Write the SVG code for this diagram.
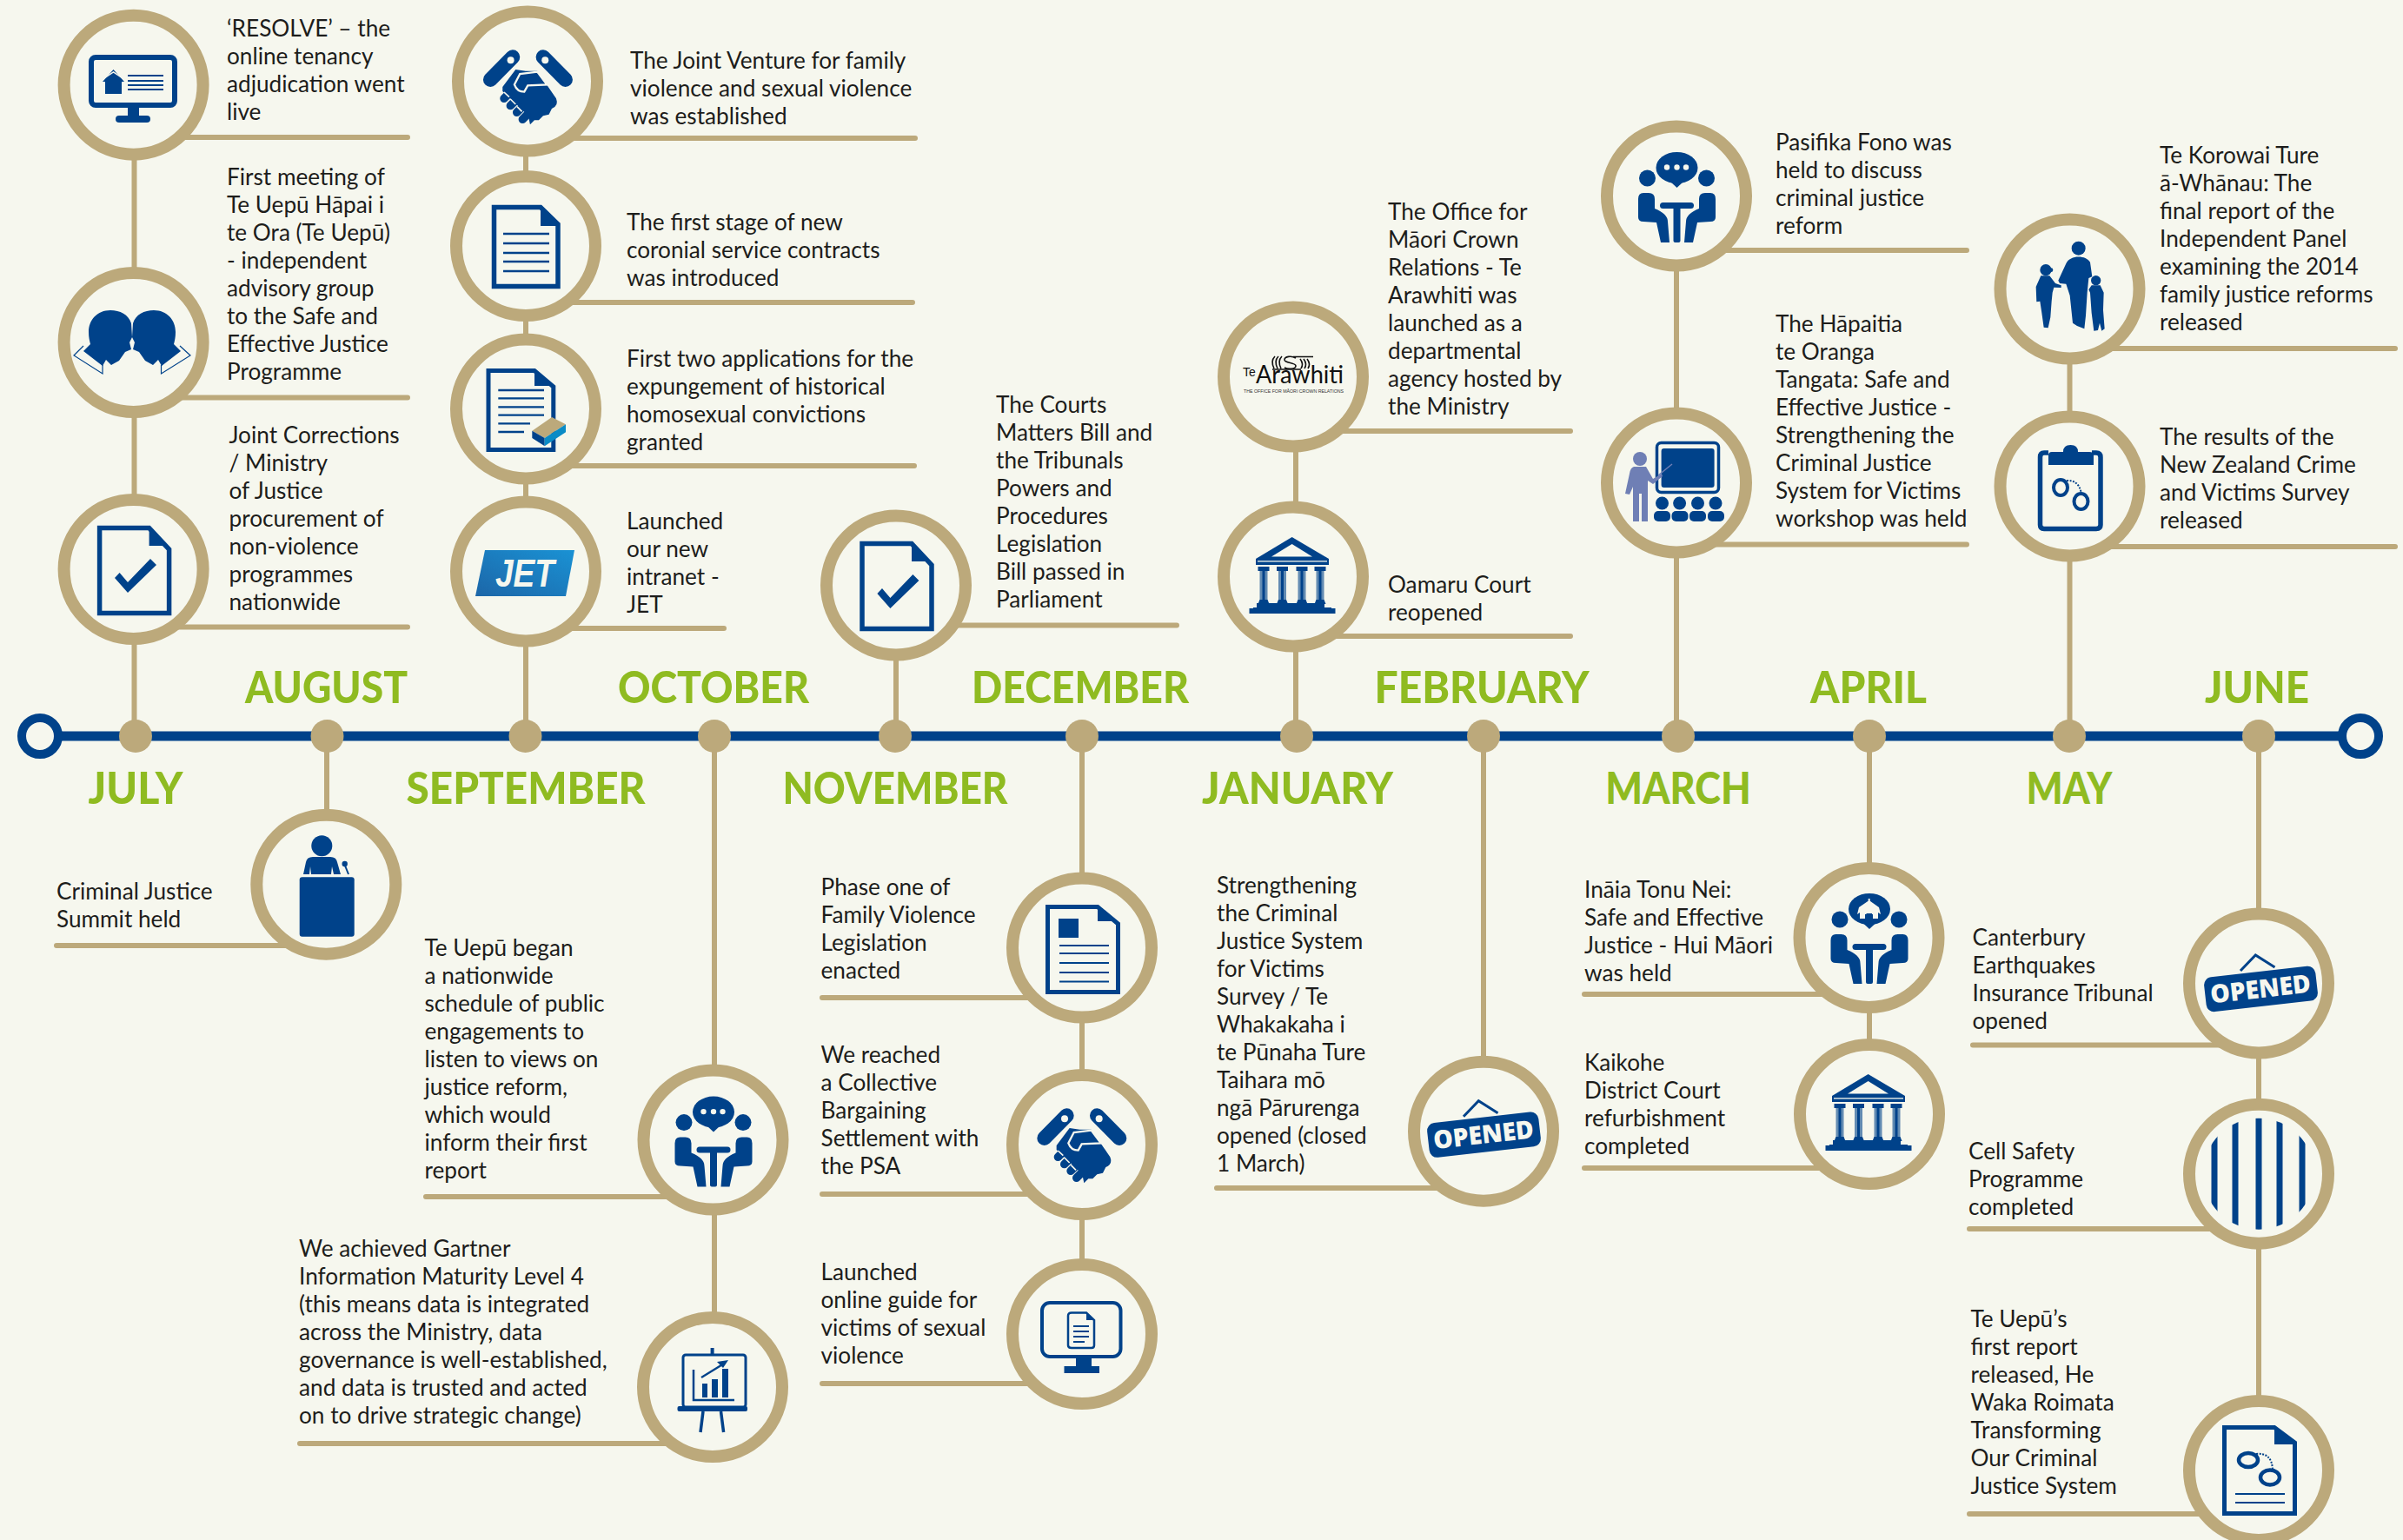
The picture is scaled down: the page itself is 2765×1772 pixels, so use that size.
<svg xmlns="http://www.w3.org/2000/svg" width="2765" height="1772" viewBox="0 0 2765 1772">
<style>
.t{font-family:"Lato","Liberation Sans",sans-serif;font-size:26.2px;font-weight:400;fill:#1d1d1b}
.m{font-family:"Lato","Liberation Sans",sans-serif;font-weight:900;font-size:51px;fill:#8fbb21;text-anchor:middle}
.ring{fill:#f6f7ee;stroke:#bca97b;stroke-width:14}
.dot{fill:#bca97b}
.end{fill:#f6f7ee;stroke:#00428a;stroke-width:10}
.v{stroke:#bca97b;stroke-width:6;fill:none}
.l{stroke:#bca97b;stroke-width:6;fill:none;stroke-linecap:round}
.b{fill:#00428a}
.s{fill:none;stroke:#00428a}
.w{fill:#f6f7ee}
</style>
<defs>
<clipPath id="barclip"><circle cx="0" cy="0" r="64"/></clipPath>
<g id="handshake" transform="scale(.3333) translate(-233,-273)">
<path d="M103,245L180,167M285,167L362,245" stroke="#00428a" stroke-width="50" stroke-linecap="round" fill="none"/>
<circle class="w" cx="173" cy="178" r="12"/><circle class="w" cx="292" cy="178" r="12"/>
<path class="b" d="M145,270L190,210L225,215L265,215L330,310Q340,335 315,345L305,365L285,370L270,385L255,385L240,400L235,375L215,350L145,285Z"/>
<path d="M150,310L165,295M172,335L187,320M194,358L209,343M214,382L228,368" stroke="#00428a" stroke-width="28" stroke-linecap="round" fill="none"/>
<path d="M150,288L168,305M172,312L190,330M195,338L212,355" stroke="#f6f7ee" stroke-width="5" fill="none"/>
<path d="M186,262L205,225L265,218L298,262L232,265L220,287Q195,287 186,262Z" class="b" stroke="#f6f7ee" stroke-width="7"/>
</g>
<g id="opened">
<path d="M-23,-17L-5.7,-35L16.5,-21" fill="none" stroke="#00428a" stroke-width="3"/>
<rect class="b" x="-64" y="-16" width="129" height="40" rx="9" transform="rotate(-6.5 0 4)"/>
<text x="0" y="14" text-anchor="middle" transform="rotate(-6.5 0 4)" font-family="'Open Sans','Liberation Sans',sans-serif" font-weight="800" font-size="29" fill="#f6f7ee" textLength="116" lengthAdjust="spacingAndGlyphs">OPENED</text>
</g>
<g id="meetbase">
<ellipse class="b" cx="0.5" cy="-32" rx="24" ry="18"/>
<path class="b" d="M-7,-16L0.5,-9L8,-16Z"/>
<circle class="b" cx="-33.500" cy="-20" r="9.500"/><circle class="b" cx="34.500" cy="-20" r="9.500"/>
<path class="b" d="M-38,-3Q-44,-3 -44,4L-44,25Q-44,30 -38,30L-23,31L-18,54L-8,54L-10,30Q-10,21 -25,15L-25,4Q-25,-3 -32,-3Z"/>
<path class="b" d="M39,-3Q45,-3 45,4L45,25Q45,30 39,30L24,31L19,54L9,54L11,30Q11,21 26,15L26,4Q26,-3 33,-3Z"/>
<rect class="b" x="-19" y="8" width="39" height="7" rx="3.500"/><rect class="b" x="-3.500" y="10" width="8" height="44" rx="2"/>
</g>
<g id="meet">
<use href="#meetbase"/>
<circle class="w" cx="-11" cy="-32.500" r="3.200"/><circle class="w" cx="0.500" cy="-32.500" r="3.200"/><circle class="w" cx="11" cy="-32.500" r="3.200"/>
</g>
<g id="col"><rect class="b" x="-6.500" y="-11" width="13" height="5"/><rect class="b" x="-4.500" y="-6" width="9" height="34" opacity=".6"/><rect class="b" x="-1.500" y="-6" width="3" height="34"/><path class="b" d="M-6.500,32L-4.500,27L4.500,27L6.500,32Z"/></g>
<g id="court">
<path class="b" d="M-1.400,-45L41,-20L41,-13L-43,-13L-43,-20Z"/>
<path class="w" d="M-1.400,-37L22,-22.500L-25,-22.500Z"/>
<rect class="w" x="-41" y="-17.800" width="80" height="1.300"/>
<use href="#col" x="-34"/><use href="#col" x="-12.500"/><use href="#col" x="10"/><use href="#col" x="31"/>
<rect class="b" x="-42" y="31" width="78" height="6"/>
<rect class="b" x="-46" y="36" width="90" height="6"/>
<rect class="b" x="-50.500" y="37" width="99" height="6"/>
</g>
<g id="doccheck">
<path class="s" stroke-width="5.500" d="M-39,-47.500L18,-47.500L41,-23L41,50.500L-39,50.500Z"/>
<path class="b" d="M18,-47.500L41,-23L41,-27L18,-27Z"/>
<path class="b" d="M-21.600,10L-6.600,27L26.400,-5L19.400,-12L-6.600,15L-16,4Z"/>
</g>
<g id="bars" clip-path="url(#barclip)">
<rect class="b" x="-54.500" y="-70" width="7" height="140"/><rect class="b" x="-30.500" y="-70" width="7" height="140"/><rect class="b" x="-3.500" y="-70" width="7" height="140"/><rect class="b" x="20.500" y="-70" width="7" height="140"/><rect class="b" x="46.500" y="-70" width="7" height="140"/>
</g>
<linearGradient id="jg" x1="0" y1="1" x2="1" y2="0"><stop offset="0" stop-color="#1c66a8"/><stop offset="1" stop-color="#1a92d4"/></linearGradient>
</defs>
<rect width="2765" height="1772" fill="#f6f7ee"/>
<g id="connectors">
<path class="v" d="M154.500,847V97M376,847V1017M605,847V93M822,847V1596M1031,847V673M1245,847V1535M1491,847V433M1707,847V1302M1929,847V225M2151,847V1282M2381.500,847V332M2599,847V1692"/>
<path d="M46,847H2716" stroke="#00428a" stroke-width="11" fill="none"/>
<path class="l" d="M154,158H469M154,457.500H469M154,721.500H469M65,1088H376M605,159H1053M605,348H1050M605,536H1052M605,723H833M490,1377H820M345,1661H820M1031,719.500H1354M946,1148H1245M946,1374H1245M946,1592H1245M1488,496H1807M1488,732H1807M1400,1367H1707M1929,288H2263M1929,626.500H2263M1823,1144H2151M1823,1344H2151M2381,401H2756M2381,629H2756M2270,1202.500H2599M2266,1414H2599M2266,1742H2599"/>
</g>
<g id="timeline">
<circle class="end" cx="46" cy="847" r="21"/><circle class="end" cx="2716" cy="847" r="21"/>
<circle class="dot" cx="156" cy="847" r="19"/><circle class="dot" cx="376.500" cy="847" r="19"/><circle class="dot" cx="604.500" cy="847" r="19"/><circle class="dot" cx="822" cy="847" r="19"/><circle class="dot" cx="1030" cy="847" r="19"/><circle class="dot" cx="1245" cy="847" r="19"/><circle class="dot" cx="1492" cy="847" r="19"/><circle class="dot" cx="1707" cy="847" r="19"/><circle class="dot" cx="1931" cy="847" r="19"/><circle class="dot" cx="2151" cy="847" r="19"/><circle class="dot" cx="2381" cy="847" r="19"/><circle class="dot" cx="2599" cy="847" r="19"/>
</g>
<g id="months">
<text class="m" x="156" y="925" textLength="109" lengthAdjust="spacingAndGlyphs">JULY</text><text class="m" x="375.500" y="809" textLength="187" lengthAdjust="spacingAndGlyphs">AUGUST</text><text class="m" x="605" y="925" textLength="275" lengthAdjust="spacingAndGlyphs">SEPTEMBER</text><text class="m" x="821" y="809" textLength="220" lengthAdjust="spacingAndGlyphs">OCTOBER</text><text class="m" x="1030" y="925" textLength="259" lengthAdjust="spacingAndGlyphs">NOVEMBER</text><text class="m" x="1243" y="809" textLength="250" lengthAdjust="spacingAndGlyphs">DECEMBER</text><text class="m" x="1493" y="925" textLength="220" lengthAdjust="spacingAndGlyphs">JANUARY</text><text class="m" x="1705" y="809" textLength="247" lengthAdjust="spacingAndGlyphs">FEBRUARY</text><text class="m" x="1931" y="925" textLength="167.500" lengthAdjust="spacingAndGlyphs">MARCH</text><text class="m" x="2150" y="809" textLength="134" lengthAdjust="spacingAndGlyphs">APRIL</text><text class="m" x="2381" y="925" textLength="99" lengthAdjust="spacingAndGlyphs">MAY</text><text class="m" x="2597" y="809" textLength="120" lengthAdjust="spacingAndGlyphs">JUNE</text>
</g>
<g id="n-resolve">
<circle class="ring" cx="153.600" cy="97.700" r="80"/>
<rect class="s" stroke-width="6" x="105" y="66" width="96" height="55" rx="5"/>
<rect class="b" x="147" y="122" width="13" height="12"/><rect class="b" x="133" y="133" width="40" height="8" rx="4"/>
<path class="b" d="M121,108V94H118L130.500,80L143,94H140V108Z"/><path d="M117,92L130.500,83L144,92" stroke="#f6f7ee" stroke-width="1.500" fill="none"/>
<path d="M147,87H188M147,93H188M147,98H188M147,103H188" stroke="#00428a" stroke-width="2" fill="none"/>
<text class="t" x="261" y="41.700">‘RESOLVE’ – the<tspan x="261" dy="32">online tenancy</tspan><tspan x="261" dy="32">adjudication went</tspan><tspan x="261" dy="32">live</tspan></text>
</g>
<g id="n-meeting">
<circle class="ring" cx="153.600" cy="394" r="80"/>
<path class="b" d="M151,372C148,362 138,357 127,357C112,357 102,368 102,382C102,388 103,392 104,396L96,404L118,421L122,414L128,420L137,415L144,405L151,402L149,394L152,388Z"/>
<path class="b" d="M153,372C156,362 166,357 177,357C192,357 202,368 202,382C202,388 201,392 200,396L208,404L186,421L182,414L176,420L167,415L160,405L153,402L155,394L152,388Z"/>
<path d="M96,398L85,409L118,430L118,420M207,398L219,409L185.500,430L185.500,420" fill="none" stroke="#00428a" stroke-width="1.200"/>
<text class="t" x="261" y="213.300">First meeting of<tspan x="261" dy="32">Te Uepū Hāpai i</tspan><tspan x="261" dy="32">te Ora (Te Uepū)</tspan><tspan x="261" dy="32">- independent</tspan><tspan x="261" dy="32">advisory group</tspan><tspan x="261" dy="32">to the Safe and</tspan><tspan x="261" dy="32">Effective Justice</tspan><tspan x="261" dy="32">Programme</tspan></text>
</g>
<g id="n-corrections">
<circle class="ring" cx="153.600" cy="655" r="80"/>
<use href="#doccheck" x="153.600" y="655"/>
<text class="t" x="263.500" y="509.700">Joint Corrections<tspan x="263.500" dy="32">/ Ministry</tspan><tspan x="263.500" dy="32">of Justice</tspan><tspan x="263.500" dy="32">procurement of</tspan><tspan x="263.500" dy="32">non-violence</tspan><tspan x="263.500" dy="32">programmes</tspan><tspan x="263.500" dy="32">nationwide</tspan></text>
</g>
<g id="n-summit">
<circle class="ring" cx="375.300" cy="1017.700" r="80"/>
<circle class="b" cx="370.300" cy="973.300" r="12"/>
<path class="b" d="M349,1006L352,992Q353,986 360,986H380Q387,986 388,992L392,1006H384L382,997L381,1006H358L357,997L356,1006Z"/>
<rect class="b" x="344.700" y="1009.300" width="63" height="68.500" rx="3"/>
<circle class="b" cx="396.700" cy="994" r="3.200"/><path d="M397,996L401,1006" stroke="#00428a" stroke-width="2" fill="none"/>
<text class="t" x="65" y="1035">Criminal Justice<tspan x="65" dy="32">Summit held</tspan></text>
</g>
<g id="n-jv">
<circle class="ring" cx="607" cy="93.500" r="80"/>
<use href="#handshake" x="607.600" y="101"/>
<text class="t" x="725" y="79">The Joint Venture for family<tspan x="725" dy="32">violence and sexual violence</tspan><tspan x="725" dy="32">was established</tspan></text>
</g>
<g id="n-coronial">
<circle class="ring" cx="605" cy="283" r="80"/>
<path class="s" stroke-width="5.500" d="M568.500,238.500H622L642,258V329.500H568.500Z"/><path class="b" d="M622,238.500L642,258V260H622Z"/>
<path d="M579,269H632M579,280H632M579,291H632M579,301H632M579,312H632" stroke="#00428a" stroke-width="2.500" fill="none"/>
<text class="t" x="721" y="265">The first stage of new<tspan x="721" dy="32">coronial service contracts</tspan><tspan x="721" dy="32">was introduced</tspan></text>
</g>
<g id="n-expunge">
<circle class="ring" cx="605" cy="470.500" r="80"/>
<path class="s" stroke-width="5" d="M562,426.500H615L636.800,445V517.500H562Z"/><path class="b" d="M615,426.500L636.800,445V444H615Z"/>
<path d="M573.300,449H626M573.300,458.300H626M573.300,468.300H626M573.300,477.700H626M573.300,487.300H610M573.300,497H603" stroke="#00428a" stroke-width="2.300" fill="none"/>
<path d="M612.300,495.700L635,480L651,488.300L626.700,504Z" fill="#bca97b"/><path class="b" d="M612.300,495.700L626.700,504V513.300L612.300,504Z"/><path d="M626.700,504L651,488.300V497.300L626.700,513.300Z" fill="#0a8bc6"/>
<text class="t" x="721" y="422">First two applications for the<tspan x="721" dy="32">expungement of historical</tspan><tspan x="721" dy="32">homosexual convictions</tspan><tspan x="721" dy="32">granted</tspan></text>
</g>
<g id="n-jet">
<circle class="ring" cx="605" cy="657.500" r="80"/>
<path d="M558,633H661L651,686H547Z" fill="url(#jg)"/>
<text x="604" y="675" text-anchor="middle" font-family="'Liberation Sans',sans-serif" font-weight="700" font-style="italic" font-size="44" fill="#f6f7ee" textLength="68" lengthAdjust="spacingAndGlyphs">JET</text>
<text class="t" x="721" y="608.500">Launched<tspan x="721" dy="32">our new</tspan><tspan x="721" dy="32">intranet -</tspan><tspan x="721" dy="32">JET</tspan></text>
</g>
<g id="n-engage">
<circle class="ring" cx="820.500" cy="1311.600" r="80"/>
<use href="#meet" x="820.500" y="1311.600"/>
<text class="t" x="488.500" y="1100">Te Uepū began<tspan x="488.500" dy="32">a nationwide</tspan><tspan x="488.500" dy="32">schedule of public</tspan><tspan x="488.500" dy="32">engagements to</tspan><tspan x="488.500" dy="32">listen to views on</tspan><tspan x="488.500" dy="32">justice reform,</tspan><tspan x="488.500" dy="32">which would</tspan><tspan x="488.500" dy="32">inform their first</tspan><tspan x="488.500" dy="32">report</tspan></text>
</g>
<g id="n-gartner">
<circle class="ring" cx="820" cy="1596" r="80"/>
<path d="M819.600,1551V1558" stroke="#00428a" stroke-width="4" fill="none"/>
<rect class="s" stroke-width="3" x="786" y="1559" width="72" height="60" rx="3"/>
<rect class="b" x="779.500" y="1618" width="80.500" height="6" rx="2"/>
<path d="M809,1624L806,1648M829.500,1624L832.600,1648" stroke="#00428a" stroke-width="3.500" fill="none"/>
<path d="M798,1576V1611H845" stroke="#00428a" stroke-width="2.500" fill="none"/>
<rect class="b" x="808" y="1592" width="6" height="16"/><rect class="b" x="819" y="1587" width="7" height="21"/><rect class="b" x="831" y="1575" width="7" height="33"/>
<path d="M807,1585L833,1569" stroke="#00428a" stroke-width="2.500" fill="none"/><path class="b" d="M838,1565L825,1567L832,1574Z"/>
<text class="t" x="344" y="1445.500">We achieved Gartner<tspan x="344" dy="32">Information Maturity Level 4</tspan><tspan x="344" dy="32">(this means data is integrated</tspan><tspan x="344" dy="32">across the Ministry, data</tspan><tspan x="344" dy="32">governance is well-established,</tspan><tspan x="344" dy="32">and data is trusted and acted</tspan><tspan x="344" dy="32">on to drive strategic change)</tspan></text>
</g>
<g id="n-courts">
<circle class="ring" cx="1031" cy="673.500" r="80"/>
<use href="#doccheck" x="1031" y="673"/>
<text class="t" x="1146" y="475">The Courts<tspan x="1146" dy="32">Matters Bill and</tspan><tspan x="1146" dy="32">the Tribunals</tspan><tspan x="1146" dy="32">Powers and</tspan><tspan x="1146" dy="32">Procedures</tspan><tspan x="1146" dy="32">Legislation</tspan><tspan x="1146" dy="32">Bill passed in</tspan><tspan x="1146" dy="32">Parliament</tspan></text>
</g>
<g id="n-fvl">
<circle class="ring" cx="1245" cy="1090.600" r="80"/>
<path class="s" stroke-width="5" d="M1205.500,1043.500H1263L1286.500,1063V1141.500H1205.500Z"/><path class="b" d="M1263,1043.500L1286.500,1063V1060H1263Z"/>
<rect class="b" x="1218" y="1057" width="23" height="22"/>
<path d="M1219,1088H1276M1219,1097H1276M1219,1108H1276M1219,1119H1276M1219,1129.500H1276" stroke="#00428a" stroke-width="2.200" fill="none"/>
<text class="t" x="944.500" y="1029.500">Phase one of<tspan x="944.500" dy="32">Family Violence</tspan><tspan x="944.500" dy="32">Legislation</tspan><tspan x="944.500" dy="32">enacted</tspan></text>
</g>
<g id="n-psa">
<circle class="ring" cx="1245" cy="1317" r="80"/>
<use href="#handshake" x="1245" y="1319"/>
<text class="t" x="944.500" y="1223">We reached<tspan x="944.500" dy="32">a Collective</tspan><tspan x="944.500" dy="32">Bargaining</tspan><tspan x="944.500" dy="32">Settlement with</tspan><tspan x="944.500" dy="32">the PSA</tspan></text>
</g>
<g id="n-guide">
<circle class="ring" cx="1245" cy="1535" r="80"/>
<rect class="s" stroke-width="4" x="1199" y="1499" width="90.500" height="62" rx="9"/>
<path class="b" d="M1238,1563H1256V1572H1265V1580H1224.500V1572H1238Z"/>
<path class="s" stroke-width="2.500" d="M1233,1510.500H1250L1259,1519V1548Q1259,1551 1256,1551H1233Q1229,1551 1229,1548V1514Q1229,1510.500 1233,1510.500Z"/>
<path class="b" d="M1250,1510.500L1259,1519H1250Z"/>
<path d="M1235,1526H1253M1235,1532H1253M1235,1538H1253M1235,1544H1248" stroke="#00428a" stroke-width="2.200" fill="none"/>
<text class="t" x="944.500" y="1473">Launched<tspan x="944.500" dy="32">online guide for</tspan><tspan x="944.500" dy="32">victims of sexual</tspan><tspan x="944.500" dy="32">violence</tspan></text>
</g>
<g id="n-arawhiti">
<circle class="ring" cx="1488" cy="433.500" r="80"/>
<path d="M1466,424C1463,418 1463,414 1467,410M1470,424C1467,418 1467,414 1471,410M1474,424C1471,418 1471,414 1475,410M1488,410.500H1511M1491,412C1486,409 1478,410 1478,414C1478,418 1491,417 1491,421C1491,425 1482,425 1478,423M1496,413C1499,417 1499,421 1497,424M1500,413C1503,417 1503,421 1501,424M1504,413C1507,417 1507,421 1505,424M1464,425H1497" fill="none" stroke="#111" stroke-width="1.600"/>
<text x="1430" y="433" font-family="'Liberation Sans',sans-serif" font-size="14" fill="#111">Te</text>
<text x="1445" y="441" font-family="'Lato','Liberation Sans',sans-serif" font-weight="400" font-size="28" fill="#111" textLength="101" lengthAdjust="spacingAndGlyphs">Arawhiti</text>
<text x="1431" y="452" font-family="'Liberation Sans',sans-serif" font-size="5" fill="#333" textLength="115" lengthAdjust="spacingAndGlyphs">THE OFFICE FOR MĀORI CROWN RELATIONS</text>
<text class="t" x="1597" y="252.500">The Office for<tspan x="1597" dy="32">Māori Crown</tspan><tspan x="1597" dy="32">Relations - Te</tspan><tspan x="1597" dy="32">Arawhiti was</tspan><tspan x="1597" dy="32">launched as a</tspan><tspan x="1597" dy="32">departmental</tspan><tspan x="1597" dy="32">agency hosted by</tspan><tspan x="1597" dy="32">the Ministry</tspan></text>
</g>
<g id="n-oamaru">
<circle class="ring" cx="1488" cy="663.500" r="80"/>
<use href="#court" x="1488" y="663"/>
<text class="t" x="1597" y="681.700">Oamaru Court<tspan x="1597" dy="32">reopened</tspan></text>
</g>
<g id="n-survey">
<circle class="ring" cx="1707" cy="1301.700" r="80"/>
<use href="#opened" x="1707" y="1301.700"/>
<text class="t" x="1400" y="1027.500">Strengthening<tspan x="1400" dy="32">the Criminal</tspan><tspan x="1400" dy="32">Justice System</tspan><tspan x="1400" dy="32">for Victims</tspan><tspan x="1400" dy="32">Survey / Te</tspan><tspan x="1400" dy="32">Whakakaha i</tspan><tspan x="1400" dy="32">te Pūnaha Ture</tspan><tspan x="1400" dy="32">Taihara mō</tspan><tspan x="1400" dy="32">ngā Pārurenga</tspan><tspan x="1400" dy="32">opened (closed</tspan><tspan x="1400" dy="32">1 March)</tspan></text>
</g>
<g id="n-fono">
<circle class="ring" cx="1929" cy="225.500" r="80"/>
<use href="#meet" x="1929" y="225"/>
<text class="t" x="2043" y="172.700">Pasifika Fono was<tspan x="2043" dy="32">held to discuss</tspan><tspan x="2043" dy="32">criminal justice</tspan><tspan x="2043" dy="32">reform</tspan></text>
</g>
<g id="n-hapaitia">
<circle class="ring" cx="1929" cy="555.500" r="80"/>
<rect class="s" stroke-width="3.500" x="1906.500" y="509.500" width="71" height="57" rx="5"/>
<rect class="b" x="1911.600" y="516" width="61" height="45" rx="3"/>
<circle cx="1887" cy="528" r="8" fill="#6f7fb5"/>
<path d="M1880,537H1894L1902,551L1912,545L1913,548L1902,557L1896,553V600H1889V568H1886V600H1879V560L1875,569L1870,568L1875,545Q1876,538 1880,537Z" fill="#6f7fb5"/>
<path d="M1908,547L1924,534" stroke="#6f7fb5" stroke-width="1.500" fill="none"/>
<circle class="b" cx="1912.500" cy="579" r="7.500"/><circle class="b" cx="1932.600" cy="579" r="7.500"/><circle class="b" cx="1953.500" cy="579" r="7.500"/><circle class="b" cx="1974" cy="579" r="7.500"/>
<rect class="b" x="1903" y="588" width="19" height="12" rx="5"/><rect class="b" x="1923.500" y="588" width="19" height="12" rx="5"/><rect class="b" x="1944" y="588" width="19" height="12" rx="5"/><rect class="b" x="1965" y="588" width="19" height="12" rx="5"/>
<text class="t" x="2043" y="381.500">The Hāpaitia<tspan x="2043" dy="32">te Oranga</tspan><tspan x="2043" dy="32">Tangata: Safe and</tspan><tspan x="2043" dy="32">Effective Justice -</tspan><tspan x="2043" dy="32">Strengthening the</tspan><tspan x="2043" dy="32">Criminal Justice</tspan><tspan x="2043" dy="32">System for Victims</tspan><tspan x="2043" dy="32">workshop was held</tspan></text>
</g>
<g id="n-hui">
<circle class="ring" cx="2150.500" cy="1079" r="80"/>
<use href="#meetbase" x="2150.500" y="1078"/>
<path d="M2150.700,1034V1038" stroke="#f6f7ee" stroke-width="2" fill="none"/>
<path class="w" d="M2140,1057V1050L2137,1052L2139,1044L2150.700,1036L2162,1044L2164,1052L2161,1050V1057H2155V1052H2146V1057Z"/>
<path class="b" d="M2147.500,1058V1051H2154V1058Z"/>
<text class="t" x="1823" y="1032.500">Ināia Tonu Nei:<tspan x="1823" dy="32">Safe and Effective</tspan><tspan x="1823" dy="32">Justice - Hui Māori</tspan><tspan x="1823" dy="32">was held</tspan></text>
</g>
<g id="n-kaikohe">
<circle class="ring" cx="2151" cy="1282" r="80"/>
<use href="#court" x="2151" y="1281"/>
<text class="t" x="1823" y="1232">Kaikohe<tspan x="1823" dy="32">District Court</tspan><tspan x="1823" dy="32">refurbishment</tspan><tspan x="1823" dy="32">completed</tspan></text>
</g>
<g id="n-korowai">
<circle class="ring" cx="2381.500" cy="332.500" r="80"/>
<g class="b" transform="translate(2290,240) scale(.3333)">
<circle cx="305" cy="137" r="24"/>
<path d="M262,190C275,160 330,160 345,185L352,235L340,240L335,290L330,370L325,415L300,405L285,395L275,300L262,260L240,258L235,248Z"/>
<circle cx="192" cy="212" r="20"/><circle cx="210" cy="212" r="7"/>
<path d="M175,232L205,232L225,258L245,265L245,273L220,272L215,290L212,320L208,375L200,412L185,410L178,360L172,320L160,322L158,270Z"/>
<circle cx="365" cy="248" r="17"/>
<path d="M350,265L380,265L392,290L390,350L395,415L385,422L378,395L372,420L358,422L350,360L345,290L340,280Z"/>
</g>
<text class="t" x="2485" y="187.500">Te Korowai Ture<tspan x="2485" dy="32">ā-Whānau: The</tspan><tspan x="2485" dy="32">final report of the</tspan><tspan x="2485" dy="32">Independent Panel</tspan><tspan x="2485" dy="32">examining the 2014</tspan><tspan x="2485" dy="32">family justice reforms</tspan><tspan x="2485" dy="32">released</tspan></text>
</g>
<g id="n-crime">
<circle class="ring" cx="2381.500" cy="559.500" r="80"/>
<path class="s" stroke-width="5.500" d="M2357,521H2352Q2347.500,521 2347.500,526V604Q2347.500,608.500 2352,608.500H2412Q2417,608.500 2417,604V526Q2417,521 2412,521H2407"/>
<path class="b" d="M2357,535V524Q2357,520 2361,520H2374Q2374,512 2382.500,512Q2391,512 2391,520H2404Q2409,520 2409,524V535Z"/>
<ellipse class="s" stroke-width="4" cx="2371" cy="561" rx="8" ry="9"/><ellipse class="s" stroke-width="4" cx="2394.500" cy="577" rx="8" ry="9"/>
<path d="M2378,553Q2392,552 2395,568" stroke="#00428a" stroke-width="2" stroke-dasharray="2 1.500" fill="none"/>
<text class="t" x="2485" y="511.800">The results of the<tspan x="2485" dy="32">New Zealand Crime</tspan><tspan x="2485" dy="32">and Victims Survey</tspan><tspan x="2485" dy="32">released</tspan></text>
</g>
<g id="n-tribunal">
<circle class="ring" cx="2599" cy="1131.500" r="80"/>
<use href="#opened" x="2601" y="1134"/>
<text class="t" x="2269.500" y="1087.700">Canterbury<tspan x="2269.500" dy="32">Earthquakes</tspan><tspan x="2269.500" dy="32">Insurance Tribunal</tspan><tspan x="2269.500" dy="32">opened</tspan></text>
</g>
<g id="n-cell">
<circle class="ring" cx="2599" cy="1350.700" r="80"/>
<use href="#bars" x="2599" y="1350.700"/>
<text class="t" x="2265" y="1334">Cell Safety<tspan x="2265" dy="32">Programme</tspan><tspan x="2265" dy="32">completed</tspan></text>
</g>
<g id="n-report">
<circle class="ring" cx="2599" cy="1692" r="80"/>
<path class="s" stroke-width="5" d="M2559.500,1642.500H2617L2640.500,1660V1741.500H2559.500Z"/><path class="b" d="M2617,1642.500L2640.500,1660V1662H2617Z"/>
<ellipse class="s" stroke-width="4.500" cx="2587" cy="1680" rx="11" ry="8"/><ellipse class="s" stroke-width="4.500" cx="2612" cy="1700" rx="11" ry="8.500"/>
<path d="M2596,1673Q2614,1671 2615,1691" stroke="#00428a" stroke-width="2" stroke-dasharray="2 1.500" fill="none"/>
<path d="M2572,1719H2629M2572,1729H2629" stroke="#00428a" stroke-width="2" fill="none"/>
<text class="t" x="2267.500" y="1527">Te Uepū’s<tspan x="2267.500" dy="32">first report</tspan><tspan x="2267.500" dy="32">released, He</tspan><tspan x="2267.500" dy="32">Waka Roimata</tspan><tspan x="2267.500" dy="32">Transforming</tspan><tspan x="2267.500" dy="32">Our Criminal</tspan><tspan x="2267.500" dy="32">Justice System</tspan></text>
</g>
</svg>
